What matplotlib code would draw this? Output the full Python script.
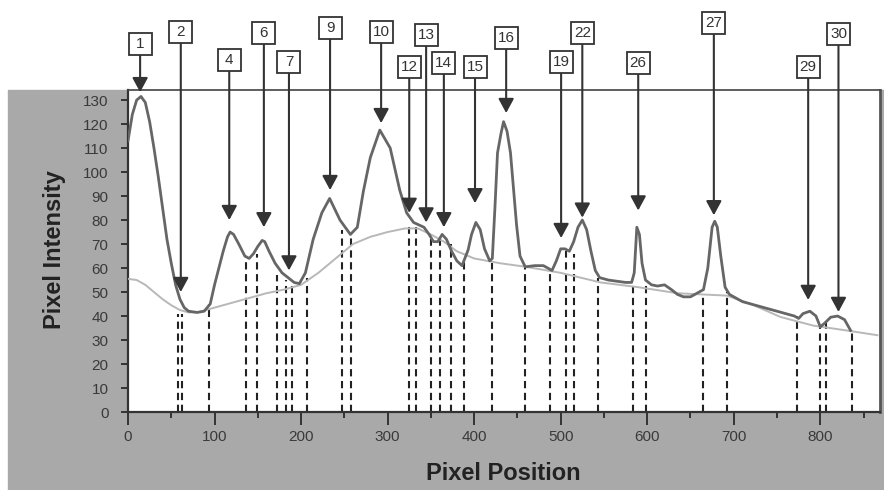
import matplotlib
matplotlib.use("Agg")
import matplotlib.pyplot as plt
from matplotlib.patches import Rectangle
from matplotlib.ticker import MultipleLocator

plt.rcParams['font.family'] = ['Liberation Sans', 'DejaVu Sans']

# intensity profile
profile_x = [0, 5, 10, 15, 20, 25, 30, 35, 40, 45, 50, 55, 60, 65, 70, 80, 88, 95,
             100, 105, 110, 115, 118, 122, 128, 135, 140, 145, 150, 155, 158, 163,
             170, 178, 185, 192, 198, 205, 214, 224, 233, 245, 257, 265, 272, 280,
             291, 303, 314, 322, 330, 336, 342, 348, 353, 358, 363, 368, 374, 380,
             386, 393, 397, 402, 407, 412, 418, 421, 424, 427, 431, 434, 438, 442,
             445, 449, 453, 459, 470, 480, 490, 495, 500, 505, 510, 515, 520, 525,
             530, 535, 540, 545, 555, 565, 575, 582, 585, 588, 591, 594, 598, 605,
             612, 620, 628, 635, 642, 650, 660, 665, 670, 675, 678, 681, 685, 690,
             695, 710, 730, 750, 770, 775, 780, 788, 795, 800, 805, 812, 820, 828, 835]
profile_y = [113, 124, 130, 131.5, 129, 121, 110, 98, 85, 72, 62, 53, 47, 43.5, 42, 41.5, 42, 45,
             53, 60, 67, 73, 75, 74, 70, 65, 64, 66, 69, 71.5, 71, 67,
             62, 58, 56, 54, 53.5, 58, 72, 83, 89, 80, 74, 77, 92, 106,
             117.5, 110, 92.5, 83, 79, 78, 77, 74, 71, 71, 74, 72, 67, 63,
             61, 67.5, 74, 79, 76, 68, 63, 64, 85, 108, 116, 121, 117, 108,
             95, 78, 65, 60.5, 61, 61, 59, 63, 68, 68, 67, 71, 77, 80,
             76, 67, 59, 56, 55, 54.5, 54, 54, 58, 77, 74, 62, 55, 53,
             52.5, 53, 51, 49, 48, 48, 50, 51, 60, 77, 79.5, 77, 65, 52,
             49, 46, 44, 42, 40, 39, 41, 42, 40, 35.5, 37, 39.5, 40, 38.5, 34]

# background (baseline) curve
base_x = [0, 10, 20, 30, 40, 50, 60, 70, 80, 90, 100, 120, 140, 160, 180, 200, 220,
          240, 260, 280, 300, 320, 335, 350, 365, 380, 400, 430, 460, 500, 546, 590,
          635, 692, 720, 754, 792, 830, 866]
base_y = [55.5, 55, 53, 50, 47, 44.5, 42.5, 41.5, 41.5, 42.5, 43.5, 45.5, 47.5, 49.5, 51,
          53, 58, 64, 70, 73, 75, 76.5, 76.5, 74, 71, 67, 64, 62, 60.5, 58, 54, 52,
          49.5, 48.5, 45, 39.6, 36, 34, 32]

# peak boundary drop lines
drop_x = [58, 62, 94, 136, 149, 172, 183, 190, 207, 247, 258, 325, 333, 350, 360, 373,
          388, 421, 459, 488, 506, 515, 543, 584, 599, 665, 692, 773, 800, 807, 837]
drop_y = [41, 41, 45, 65, 66, 57, 55, 54, 56, 76, 74, 77, 77, 72, 72, 70,
          63, 62, 61, 59, 67, 66, 56, 54, 54, 49, 50, 40, 36, 38, 34]

# numbered peaks: arrow tips
peak_labels = ['1', '2', '4', '6', '7', '9', '10', '12', '13', '14', '15', '16',
               '19', '22', '26', '27', '29', '30']
peak_x = [14, 61, 117, 157, 186, 233.5, 292.5, 325, 344.5, 365, 401, 437,
          500.5, 525, 589.6, 677, 786, 821]
peak_y = [133.3, 50, 80, 77, 59, 92.5, 120.4, 83, 79, 77, 87, 124.6,
          72.5, 81, 84, 82, 46.7, 41.7]
# height of each label box centre (data units, above the frame)
box_y = [153.3, 158.3, 146.7, 158, 146, 160, 158.3, 143.8, 157, 145.4, 143.8, 156,
         145.8, 158, 145.4, 162, 143.8, 157.5]

fig = plt.figure(figsize=(8.84, 4.9), dpi=100)
fig.patches.append(Rectangle((8 / 884, 0), 876 / 884, 400 / 490,
                             transform=fig.transFigure, color='#a9a9a9', zorder=-10))
ax = fig.add_axes([128 / 884, 78 / 490, 752 / 884, 322 / 490])
ax.set_zorder(1)
ax.set_facecolor('white')
ax.set_xlim(0, 869)
ax.set_ylim(0, 134.2)

ax.vlines(drop_x, 0, drop_y, colors='#222222', linestyles=(0, (3.5, 2.2)), lw=1.5, zorder=2)
ax.plot(base_x, base_y, color='#b8b8b8', lw=1.4, zorder=3)
ax.plot(profile_x, profile_y, color='#666666', lw=2.0, zorder=4)

ax.xaxis.set_major_locator(MultipleLocator(100))
ax.xaxis.set_minor_locator(MultipleLocator(50))
ax.yaxis.set_major_locator(MultipleLocator(10))
ax.tick_params(axis='x', which='major', length=9, width=1.4, color='#333333',
               labelsize=11, labelcolor='#3a3a3a', pad=4)
ax.tick_params(axis='x', which='minor', length=4, width=1.4, color='#333333')
ax.tick_params(axis='y', length=5, width=1.4, color='#333333',
               labelsize=11, labelcolor='#3a3a3a', pad=9)
for side in ['left', 'bottom']:
    ax.spines[side].set_color('#333333')
    ax.spines[side].set_linewidth(1.6)
ax.spines['top'].set_color('#444444')
ax.spines['top'].set_linewidth(1.2)
ax.spines['right'].set_color('#555555')
ax.spines['right'].set_linewidth(2)

fig.text(55 / 884, 1 - 250 / 490, 'Pixel Intensity', rotation=90, ha='center', va='center',
         fontsize=17, fontweight='bold', color='#222222')
fig.text(503 / 884, 1 - 473 / 490, 'Pixel Position', ha='center', va='center',
         fontsize=17, fontweight='bold', color='#222222')

# fixed-size label boxes (23 x 22 px) converted to data units
fig.canvas.draw()
inv = ax.transData.inverted()
x0, y0 = inv.transform((0, 0))
x1, y1 = inv.transform((23, 22))
bw, bh = x1 - x0, y1 - y0

for lab, px, py, by in zip(peak_labels, peak_x, peak_y, box_y):
    ax.add_patch(Rectangle((px - bw / 2, by - bh / 2), bw, bh, facecolor='white',
                           edgecolor='#333333', lw=1.3, clip_on=False, zorder=6))
    ax.text(px, by, lab, ha='center', va='center', fontsize=11, color='#333333',
            clip_on=False, zorder=7)
    ax.annotate('', xy=(px, py), xytext=(px, by - bh / 2), annotation_clip=False,
                arrowprops=dict(arrowstyle='-|>,head_length=0.48,head_width=0.26',
                                mutation_scale=18, lw=1.5, color='#333333',
                                shrinkA=0, shrinkB=0), zorder=5)

fig.savefig('out.png', dpi=100)
